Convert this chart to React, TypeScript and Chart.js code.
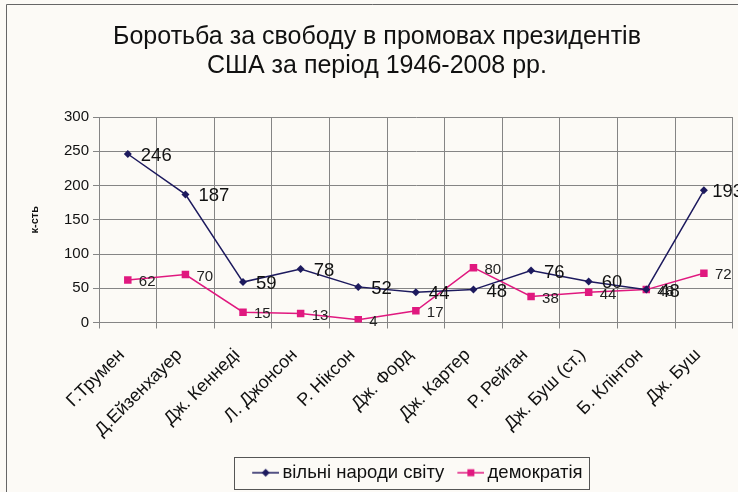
import React, { useEffect, useRef } from 'react';
import { Chart, registerables } from 'chart.js';
Chart.register(...registerables);

const categories = ['Г.Трумен', 'Д.Ейзенхауер', 'Дж. Кеннеді', 'Л. Джонсон', 'Р. Ніксон', 'Дж. Форд', 'Дж. Картер', 'Р. Рейган', 'Дж. Буш (ст.)', 'Б. Клінтон', 'Дж. Буш'];
const freeNations = [246, 187, 59, 78, 52, 44, 48, 76, 60, 48, 193];
const democracy = [62, 70, 15, 13, 4, 17, 80, 38, 44, 48, 72];
const yMin = 0;
const yMax = 300;
const yStep = 50;
const titleLines = ['Боротьба за свободу в промовах президентів', 'США за період 1946-2008 рр.'];
const seriesNames = ['вільні народи світу', 'демократія'];
const yTitle = 'к-сть';

const FONT = 'Arial, "Liberation Sans", sans-serif';
const NAVY = '#1d1a5e';
const MAGENTA = '#e0187f';
const GRID = '#858585';
const BG = '#fcfaf6';

function makeMarker(color: string, shape: 'diamond' | 'square') {
  // canvas 36 wide; visible line from x=9 to x=36
  const c = document.createElement('canvas');
  c.width = 36;
  c.height = 12;
  const ctx = c.getContext('2d')!;
  ctx.strokeStyle = color;
  ctx.lineWidth = 1.5;
  ctx.beginPath();
  ctx.moveTo(9, 6);
  ctx.lineTo(36, 6);
  ctx.stroke();
  ctx.fillStyle = color;
  ctx.beginPath();
  const cx = 22.5;
  if (shape === 'diamond') {
    ctx.moveTo(cx, 2);
    ctx.lineTo(cx + 4, 6);
    ctx.lineTo(cx, 10);
    ctx.lineTo(cx - 4, 6);
    ctx.closePath();
  } else {
    ctx.rect(cx - 3.5, 2.5, 7, 7);
  }
  ctx.fill();
  return c;
}

const valueLabels = {
  id: 'valueLabels',
  afterDatasetsDraw(chart: any) {
    const ctx = chart.ctx;
    chart.data.datasets.forEach((ds: any, i: number) => {
      const meta = chart.getDatasetMeta(i);
      const big = i === 0;
      ctx.save();
      ctx.font = (big ? '18.5px ' : '15px ') + FONT;
      ctx.fillStyle = big ? '#111' : '#222';
      ctx.textBaseline = 'middle';
      ctx.textAlign = 'left';
      meta.data.forEach((pt: any, j: number) => {
        const txt = String(ds.data[j]);
        const w = ctx.measureText(txt).width;
        let x = pt.x + (big ? 13 : 11);
        // keep the label (almost) inside the chart, as the spreadsheet does
        x = Math.min(x, chart.width - w + 5);
        ctx.fillText(txt, x, pt.y + 2);
      });
      ctx.restore();
    });
  },
};

const decor = {
  id: 'decor',
  beforeDraw(chart: any) {
    const ctx = chart.ctx;
    ctx.save();
    ctx.fillStyle = BG;
    ctx.fillRect(0, 0, chart.width, chart.height);
    ctx.strokeStyle = '#666';
    ctx.lineWidth = 1;
    ctx.beginPath();
    ctx.moveTo(6.5, chart.height);
    ctx.lineTo(6.5, 4.5);
    ctx.lineTo(chart.width, 4.5);
    ctx.stroke();
    ctx.restore();
  },
  afterDraw(chart: any) {
    const lg = chart.legend;
    if (!lg || !lg.legendHitBoxes || !lg.legendHitBoxes.length) return;
    const hb = lg.legendHitBoxes;
    const left = Math.min(...hb.map((h: any) => h.left));
    const right = Math.max(...hb.map((h: any) => h.left + h.width));
    const top = Math.min(...hb.map((h: any) => h.top));
    const bottom = Math.max(...hb.map((h: any) => h.top + h.height));
    const ctx = chart.ctx;
    ctx.save();
    ctx.strokeStyle = '#555';
    ctx.lineWidth = 1;
    ctx.strokeRect(Math.round(left - 15) + 0.5, Math.round(top - 7) + 0.5, Math.round(right - left + 22), Math.round(bottom - top + 13));
    ctx.restore();
  },
};

export default function App() {
  const ref = useRef<HTMLCanvasElement>(null);
  useEffect(() => {
    document.body.style.margin = '0';
    const markers = [makeMarker(NAVY, 'diamond'), makeMarker(MAGENTA, 'square')];
    Chart.defaults.font.family = FONT;
    const chart = new Chart(ref.current!, {
      type: 'line',
      data: {
        labels: categories,
        datasets: [
          {
            label: seriesNames[0],
            data: freeNations,
            borderColor: NAVY,
            backgroundColor: NAVY,
            borderWidth: 1.5,
            pointStyle: 'rectRot',
            pointRadius: 4,
            pointBorderWidth: 0,
            tension: 0,
          },
          {
            label: seriesNames[1],
            data: democracy,
            borderColor: MAGENTA,
            backgroundColor: MAGENTA,
            borderWidth: 1.5,
            pointStyle: 'rect',
            pointRadius: 5.3,
            pointBorderWidth: 0,
            tension: 0,
          },
        ],
      },
      options: {
        responsive: false,
        animation: false,
        layout: { padding: { left: 20, right: 4, top: 0, bottom: 0 } },
        scales: {
          x: {
            type: 'category',
            offset: true,
            grid: { offset: true, color: GRID, lineWidth: 1, tickLength: 6 },
            border: { color: GRID },
            ticks: { autoSkip: false, minRotation: 45, maxRotation: 45, font: { size: 18, family: FONT }, color: '#111', padding: 16, labelOffset: -6 },
            afterFit(s: any) { s.height = 131; },
          },
          y: {
            min: yMin,
            max: yMax,
            ticks: { stepSize: yStep, font: { size: 15, family: FONT }, color: '#111', padding: 4 },
            grid: { color: GRID, lineWidth: 1, tickLength: 6 },
            border: { color: GRID },
            title: { display: true, text: yTitle, font: { size: 11, weight: 'bold', family: FONT }, color: '#111', padding: { top: 8, bottom: 0 } },
            afterFit(s: any) { s.width = 79; },
          },
        },
        plugins: {
          title: {
            display: true,
            text: titleLines,
            font: { size: 25, weight: 'normal', family: FONT, lineHeight: 1.16 },
            color: '#111',
            padding: { top: 22.5, bottom: 36.5 },
          },
          legend: {
            display: true,
            position: 'bottom',
            fullSize: false,
            labels: {
              usePointStyle: true,
              pointStyleWidth: 24,
              padding: 10,
              font: { size: 18.5, family: FONT },
              color: '#111',
              generateLabels(chart: any) {
                const items = Chart.defaults.plugins.legend.labels.generateLabels(chart);
                return items.map((it: any, i: number) => ({ ...it, pointStyle: markers[i] }));
              },
            },
          },
          tooltip: { enabled: false },
        },
      },
      plugins: [decor, valueLabels],
    } as any);
    return () => chart.destroy();
  }, []);
  return (
    <div style={{ width: 738, height: 492 }}>
      <canvas ref={ref} width={738} height={492} style={{ display: 'block', width: 738, height: 492 }} />
    </div>
  );
}
